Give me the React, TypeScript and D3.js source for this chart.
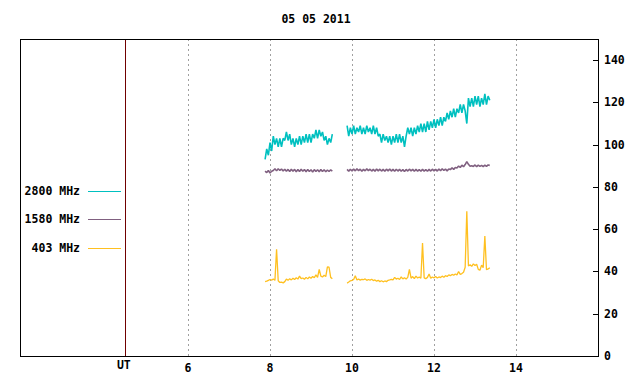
import React from "react";
import * as d3 from "d3";

const title = "05 05 2011";
const xTicks = [6, 8, 10, 12, 14];
const yTicks = [0, 20, 40, 60, 80, 100, 120, 140];
const utHour = 4.46;
const seg1Start = 7.88;
const seg2Start = 9.88;
const sampleStep = 0.04;

const series = ["2800 MHz", "1580 MHz", "403 MHz"];
const colors = ["#00c0c0", "#806080", "#ffc020"];

const f2800a = [93, 98, 95, 101, 97, 104, 100, 103, 99, 103, 99, 103, 102, 106, 102, 105, 100, 103, 99, 103, 100, 104, 100, 104, 101, 105, 101, 105, 101, 105, 103, 107, 103, 107, 104, 106, 102, 104, 100, 103, 101, 105];
const f2800b = [109, 104, 108, 105, 109, 105, 108, 106, 109, 105, 108, 105, 109, 106, 108, 105, 109, 105, 108, 104,
  105, 101, 105, 102, 104, 101, 104, 100, 104, 101, 105, 101, 105, 101, 104, 99, 104,
  108, 105, 108, 104, 108, 105, 109,
  106, 110, 106, 110, 106, 111, 107, 111, 108,
  112, 108, 112, 109, 113, 109, 113,
  111, 115, 112, 116, 113, 117, 113, 117,
  115, 119, 115, 119, 116,
  110,
  122, 118, 122, 118, 123, 119, 123, 118, 122, 119, 124, 119, 123, 121];

const f1580a = [87.5, 86.8, 87.8, 86.6, 87.4, 87.8, 88.6, 87.6, 88.6, 87.8, 88.5, 87.5, 88.4, 87.4, 88.3, 87.3, 88.4, 87.4, 88.3, 87.2, 88.2, 87.3, 88.4, 87.4, 88.2, 87.2, 88.3, 87.3, 88.1, 87.1, 88.2, 87.3, 88.1, 87.2, 88.2, 87.3, 88.1, 87.2, 88, 87.3, 88.1, 87.5];
const f1580b = [88.3, 87.4, 88.4, 87.5, 88.5, 87.6, 88.6, 87.7, 88.4, 87.4, 88.3, 87.6, 88.6, 87.7, 88.4, 87.5, 88.3, 87.4, 88.5, 87.6, 88.4, 87.5, 88.3, 87.4, 88.4, 87.6, 88.5, 87.5, 88.3, 87.4, 88.4, 87.5, 88.3, 87.4, 88.2, 87.3, 88.3, 87.5, 88.4, 87.6, 88.3, 87.4, 88.3, 87.5, 88.2, 87.4, 88.3, 87.5, 88.2, 87.4, 88.3, 87.5, 88.4, 87.6, 88.3, 87.5, 88.5, 87.7, 88.6, 87.8, 88.4, 87.6, 88.5, 88.2, 89.1, 88.3, 89.2, 89, 89.9, 89.2, 90.3, 89.6, 90.6, 92, 90.7, 89.8, 90, 89.7, 90.4, 89.6, 90.3, 89.7, 90.2, 89.6, 90.3, 89.7, 90.4, 90.2];

const f403a = [35.2, 35.4, 35.8, 36.2, 35.9, 36.4, 35.8, 50.5, 35.6, 34.8, 35, 34.6, 35.2, 36.4, 35.8, 36.6, 36, 36.8, 36.2, 37, 36.4, 37.8, 36.6, 36.9, 36.3, 37.2, 36.5, 37.4, 36.8, 37.6, 37, 38.4, 37.2, 41, 37.8, 37.4, 38.2, 37.6, 42.2, 42, 37.2, 36.6];
const f403b = [34.5, 35, 35.6, 35.8, 36.2, 38, 36, 36.4, 35.9, 36.3, 36.1, 36.5, 35.8, 36.2, 35.9, 36.3, 35.7, 36, 35.4, 35.8, 35.2, 35.6, 35.1, 35.5, 35.2, 35.8, 36, 36.3, 36, 37.2, 36.4, 36.8, 36.2, 37.4, 36.5, 37, 36.4, 37.2, 41, 36.8, 37.6, 36.6, 37.8, 36.9, 37.4, 36.8, 53.5, 37, 36.6, 37.2, 38.8, 36.8, 37.4, 37, 37.6, 36.9, 37.4, 37.1, 37.8, 37.3, 38, 37.6, 38.4, 38, 38.6, 38.2, 38.8, 38.4, 40, 38.6, 39, 39.6, 42, 68.5, 42.6, 43.2, 42.4, 43.6, 42.8, 43.4, 41, 40.6, 43, 41.8, 56.8, 40.8, 41.2, 41.8];

const segments = [
  [f2800a, f2800b],
  [f1580a, f1580b],
  [f403a, f403b],
];
const widths = [1.6, 1.6, 1.3];

const W = 640, H = 384;
const L = 20, R = 598, T = 39, B = 356;
const font = "'DejaVu Sans Mono', monospace";

export default function App() {
  const x = d3.scaleLinear().domain([1.902, 16]).range([L, R]);
  const y = d3.scaleLinear().domain([0, 150]).range([B, T]);
  const line = d3.line<[number, number]>().x((d) => x(d[0])).y((d) => y(d[1]));
  const toPts = (vals: number[], start: number) =>
    vals.map((v, i) => [start + i * sampleStep, v] as [number, number]);

  const legendY = [191, 219, 248];

  return (
    <svg width={W} height={H} style={{ position: "absolute", left: 0, top: 0, background: "#fff" }}>
      <rect x={0} y={0} width={W} height={H} fill="#fff" />
      <text x={316} y={23} textAnchor="middle" fontFamily={font} fontWeight="bold" fontSize={11.5}>{title}</text>
      {xTicks.map((t) => (
        <line key={t} x1={Math.round(x(t)) + 0.5} x2={Math.round(x(t)) + 0.5} y1={T} y2={B} stroke="#a0a0a0" strokeDasharray="2,3" strokeWidth={1} shapeRendering="crispEdges" />
      ))}
      <line x1={Math.round(x(utHour)) + 0.5} x2={Math.round(x(utHour)) + 0.5} y1={T} y2={B} stroke="#700000" strokeWidth={1} shapeRendering="crispEdges" />
      {yTicks.map((t) => (
        <g key={t}>
          <line x1={R - 5} x2={R} y1={Math.round(y(t)) + 0.5} y2={Math.round(y(t)) + 0.5} stroke="#000" shapeRendering="crispEdges" />
          <text x={604} y={y(t) + 4} fontFamily={font} fontWeight="bold" fontSize={11.5}>{t}</text>
        </g>
      ))}
      {xTicks.map((t) => (
        <text key={"l" + t} x={x(t)} y={372} textAnchor="middle" fontFamily={font} fontWeight="bold" fontSize={11.5}>{t}</text>
      ))}
      <text x={x(utHour) - 1} y={369} textAnchor="middle" fontFamily={font} fontWeight="bold" fontSize={11.5}>UT</text>
      {segments.map((segs, si) => (
        <g key={si}>
          <path d={line(toPts(segs[0], seg1Start)) || ""} fill="none" stroke={colors[si]} strokeWidth={widths[si]} strokeLinejoin="bevel" />
          <path d={line(toPts(segs[1], seg2Start)) || ""} fill="none" stroke={colors[si]} strokeWidth={widths[si]} strokeLinejoin="bevel" />
        </g>
      ))}
      {series.map((s, i) => (
        <g key={s}>
          <text x={80} y={legendY[i] + 4} textAnchor="end" fontFamily={font} fontWeight="bold" fontSize={11.5}>{s}</text>
          <line x1={88} x2={121} y1={legendY[i] + 0.5} y2={legendY[i] + 0.5} stroke={colors[i]} strokeWidth={1} shapeRendering="crispEdges" />
        </g>
      ))}
      <rect x={L + 0.5} y={T + 0.5} width={R - L} height={B - T} fill="none" stroke="#000" strokeWidth={1} shapeRendering="crispEdges" />
    </svg>
  );
}
